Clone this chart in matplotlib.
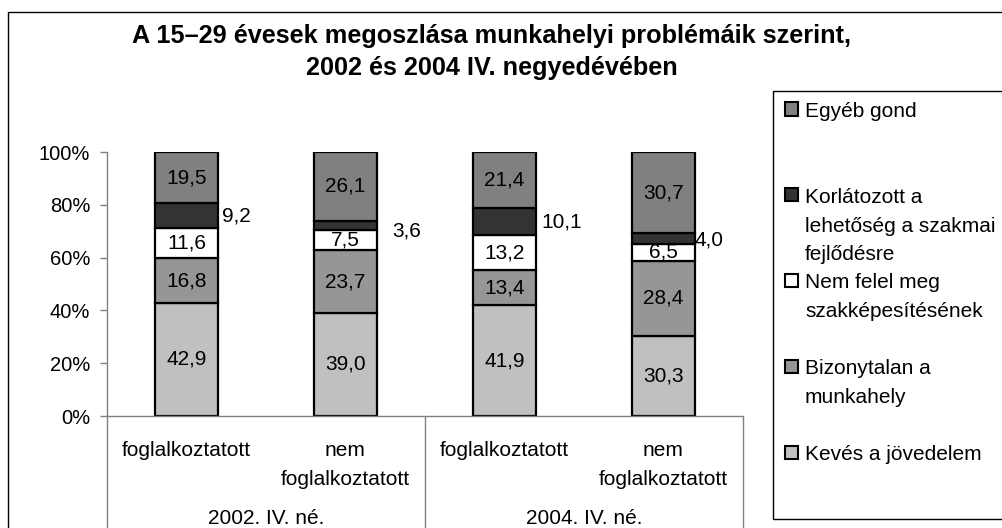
import matplotlib.pyplot as plt
from matplotlib.patches import Rectangle
from matplotlib.lines import Line2D
import numpy as np

plt.rcParams['font.family'] = ['Liberation Sans', 'DejaVu Sans']

title = 'A 15–29 évesek megoszlása munkahelyi problémáik szerint,\n2002 és 2004 IV. negyedévében'
groups = ['2002. IV. né.', '2004. IV. né.']
categories = ['foglalkoztatott', 'nem\nfoglalkoztatott', 'foglalkoztatott', 'nem\nfoglalkoztatott']

# series, bottom to top
series_names = ['Kevés a jövedelem', 'Bizonytalan a\nmunkahely', 'Nem felel meg\nszakképesítésének',
                'Korlátozott a\nlehetőség a szakmai\nfejlődésre', 'Egyéb gond']
keves = [42.9, 39.0, 41.9, 30.3]
bizonytalan = [16.8, 23.7, 13.4, 28.4]
nem_felel = [11.6, 7.5, 13.2, 6.5]
korlatozott = [9.2, 3.6, 10.1, 4.0]
egyeb = [19.5, 26.1, 21.4, 30.7]
yticks = [0, 20, 40, 60, 80, 100]

series = [keves, bizonytalan, nem_felel, korlatozott, egyeb]
colors = ['#c0c0c0', '#969696', '#ffffff', '#333333', '#808080']

W, H = 1002, 528
fig = plt.figure(figsize=(W / 100, H / 100), dpi=100)


def fx(px):
    return px / W


def fy(py):
    return 1 - py / H


# chart area border (runs off the right and bottom edge)
fig.add_artist(Rectangle((fx(8), -0.1), 1.2, fy(12) + 0.1, transform=fig.transFigure,
                         fill=False, ec='black', lw=1))

ax = fig.add_axes([fx(107), fy(416), fx(636), 264 / H])

x = np.arange(len(categories))
totals = np.sum(series, axis=0)
bottom = np.zeros(len(categories))
label_fs = 15

# label offsets (px) for the thin dark segment, drawn beside the bar
side_offsets = [(4, 0), (15, -5), (5, 0), (-1, -2)]

for k, (vals, col) in enumerate(zip(series, colors)):
    pct = np.array(vals) / totals * 100
    ax.bar(x, pct, 0.4, bottom=bottom, color=col, edgecolor='black', linewidth=1.6, zorder=2)
    for i in range(len(x)):
        txt = f'{vals[i]:.1f}'.replace('.', ',')
        mid = bottom[i] + pct[i] / 2
        if k == 3:
            dx, dy = side_offsets[i]
            ax.annotate(txt, (x[i] + 0.2, mid), xytext=(dx * 0.72, dy * 0.72),
                        textcoords='offset points', ha='left', va='center', fontsize=label_fs)
        else:
            ax.text(x[i], mid, txt, ha='center', va='center', fontsize=label_fs, zorder=3)
    bottom += pct

ax.set_xlim(-0.5, 3.5)
ax.set_ylim(0, 100)
ax.set_yticks(yticks)
ax.set_yticklabels([f'{t}%' for t in yticks], fontsize=14.5)
ax.set_xticks([])
ax.tick_params(axis='y', direction='out', length=5, width=1, color='#808080', pad=7)
for s in ['top', 'right']:
    ax.spines[s].set_visible(False)
for s in ['left', 'bottom']:
    ax.spines[s].set_color('#808080')
    ax.spines[s].set_linewidth(1)

# multi-level category axis
xt = ax.get_xaxis_transform()
for i, c in enumerate(categories):
    ax.annotate(c, (x[i], 0), xytext=(0, -18), xycoords=xt, textcoords='offset points',
                ha='center', va='top', fontsize=label_fs, linespacing=1.65)
for g, name in enumerate(groups):
    ax.annotate(name, (2 * g + 0.5, 0), xytext=(0, -74), xycoords=xt, textcoords='offset points',
                ha='center', va='center', fontsize=label_fs)
for sx in [-0.5, 1.5, 3.5]:
    ax.add_line(Line2D([sx, sx], [0, -1], transform=xt, color='#808080', lw=1, clip_on=False))

fig.text(fx(492), fy(52), title, ha='center', va='center', fontsize=18.2,
         fontweight='bold', linespacing=1.4)

# legend, Excel style: box, top entry first
fig.add_artist(Rectangle((fx(773), fy(519)), 0.5, (519 - 91) / H, transform=fig.transFigure,
                         fill=False, ec='black', lw=1))
first_lines = np.linspace(109, 452, len(series_names))
for j, k in enumerate(range(len(series_names) - 1, -1, -1)):
    yl = first_lines[j]
    fig.add_artist(Rectangle((fx(785), fy(yl + 6.5)), 13 / W, 13 / H, transform=fig.transFigure,
                             fc=colors[k], ec='black', lw=1.5))
    fig.text(fx(805), fy(yl - 7), series_names[k], ha='left', va='top',
             fontsize=label_fs, linespacing=1.65)

fig.savefig('out.png', dpi=100)
